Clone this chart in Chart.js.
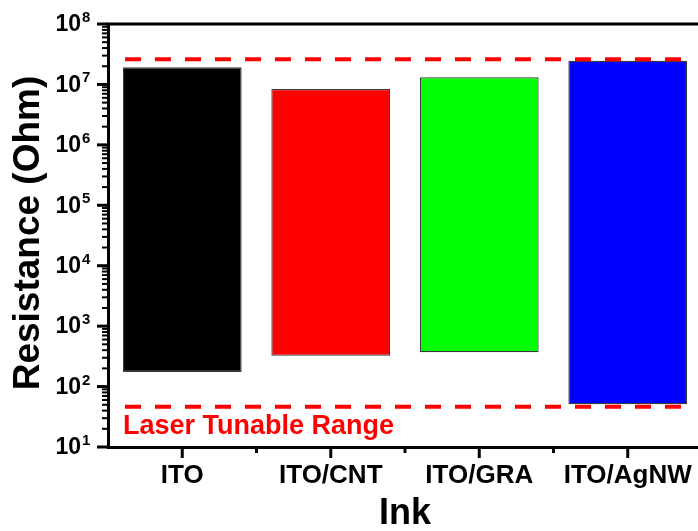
<!DOCTYPE html>
<html>
<head>
<meta charset="utf-8">
<script src="https://cdn.jsdelivr.net/npm/chart.js@4.4.1/dist/chart.umd.min.js"></script>
<style>
  html, body { margin: 0; padding: 0; background: #fff; overflow: hidden; }
  #wrap { width: 698px; height: 531px; overflow: hidden; }
  #c { display: block; }
</style>
</head>
<body>
<div id="wrap"><canvas id="c" width="702" height="531"></canvas></div>
<script>
// Ink types
const categories = ['ITO', 'ITO/CNT', 'ITO/GRA', 'ITO/AgNW'];
// Lowest and highest resistance (Ohm) for each ink
const lowValues = [174, 324, 369, 51];
const highValues = [1.92e7, 8.4e6, 1.31e7, 2.47e7];
const barColors = ['#000000', '#ff0000', '#00ff00', '#0000ff'];
// Limits of the laser tunable range (Ohm)
const rangeLow = 46.4;
const rangeHigh = 2.61e7;
const rangeLabel = 'Laser Tunable Range';
// Decade exponents shown on the y axis
const tickExponents = [1, 2, 3, 4, 5, 6, 7, 8];
const yTitle = 'Resistance (Ohm)';
const xTitle = 'Ink';

const FONT = '"Liberation Sans", Arial, Helvetica, sans-serif';

const decorations = {
  id: 'decorations',
  afterDatasetsDraw(chart) {
    const ctx = chart.ctx;
    const area = chart.chartArea;
    const x = chart.scales.x;
    const y = chart.scales.y;
    ctx.save();

    // dashed limits of the tunable range
    ctx.strokeStyle = '#ff0000';
    ctx.lineWidth = 4;
    ctx.setLineDash([16, 14]);
    ctx.lineCap = 'butt';
    const x0 = area.left + 17;
    const x1 = area.right - 19;
    [rangeHigh, rangeLow].forEach(v => {
      const py = y.getPixelForValue(v);
      ctx.beginPath();
      ctx.moveTo(x0, py);
      ctx.lineTo(x1, py);
      ctx.stroke();
    });
    ctx.setLineDash([]);

    ctx.fillStyle = '#ff0000';
    ctx.font = 'bold 27px ' + FONT;
    ctx.textAlign = 'left';
    ctx.textBaseline = 'alphabetic';
    ctx.fillText(rangeLabel, area.left + 15, 434);

    // top frame line
    ctx.strokeStyle = '#000';
    ctx.lineWidth = 3;
    ctx.beginPath();
    ctx.moveTo(area.left - 1.5, area.top);
    ctx.lineTo(area.right + 2, area.top);
    ctx.stroke();

    // y axis ticks (major + minor)
    ctx.fillStyle = '#000';
    tickExponents.forEach((e, i) => {
      const py = y.getPixelForValue(Math.pow(10, e));
      ctx.lineWidth = 3;
      ctx.beginPath();
      ctx.moveTo(area.left - 11, py);
      ctx.lineTo(area.left, py);
      ctx.stroke();
      if (i < tickExponents.length - 1) {
        ctx.lineWidth = 2;
        for (let m = 2; m <= 9; m++) {
          const my = y.getPixelForValue(m * Math.pow(10, e));
          ctx.beginPath();
          ctx.moveTo(area.left - 6, my);
          ctx.lineTo(area.left, my);
          ctx.stroke();
        }
      }
      // label 10^e
      ctx.font = 'bold 23px ' + FONT;
      ctx.textAlign = 'right';
      ctx.textBaseline = 'middle';
      ctx.fillText('10', area.left - 27, py + 1);
      ctx.font = 'bold 15px ' + FONT;
      ctx.textAlign = 'left';
      ctx.textBaseline = 'alphabetic';
      ctx.fillText(String(e), area.left - 26, py - 2);
    });

    // x axis ticks and labels
    ctx.lineWidth = 3;
    categories.forEach((c, i) => {
      const px = x.getPixelForValue(i);
      ctx.beginPath();
      ctx.moveTo(px, area.bottom);
      ctx.lineTo(px, area.bottom + 11);
      ctx.stroke();
      const bx = (px + x.getPixelForValue(i) + x.width / categories.length) / 2;
      ctx.beginPath();
      ctx.moveTo(bx, area.bottom);
      ctx.lineTo(bx, area.bottom + 6);
      ctx.stroke();
      ctx.font = 'bold 26px ' + FONT;
      ctx.textAlign = 'center';
      ctx.textBaseline = 'alphabetic';
      ctx.fillText(c, px, 483);
    });

    // axis titles
    ctx.font = 'bold 36px ' + FONT;
    ctx.textAlign = 'center';
    ctx.textBaseline = 'middle';
    ctx.fillText(xTitle, (area.left + area.right) / 2, 514);
    ctx.save();
    ctx.font = 'bold 37px ' + FONT;
    ctx.translate(29, 233);
    ctx.rotate(-Math.PI / 2);
    ctx.fillText(yTitle, 0, 0);
    ctx.restore();

    ctx.restore();
  }
};

new Chart(document.getElementById('c'), {
  type: 'bar',
  data: {
    labels: categories,
    datasets: [{
      data: categories.map((c, i) => [lowValues[i], highValues[i]]),
      backgroundColor: barColors,
      borderColor: '#3a3a3a',
      borderWidth: 1.2,
      borderSkipped: false,
      barPercentage: 0.8,
      categoryPercentage: 1.0
    }]
  },
  options: {
    responsive: false,
    animation: false,
    devicePixelRatio: 1,
    layout: { padding: { left: 0, top: 24, right: 0, bottom: 0 } },
    plugins: { legend: { display: false }, tooltip: { enabled: false } },
    scales: {
      x: {
        type: 'category',
        offset: true,
        grid: { display: false },
        ticks: { display: false },
        border: { display: true, color: '#000', width: 3 },
        afterFit(s) { s.height = 84; }
      },
      y: {
        type: 'logarithmic',
        min: 10,
        max: 1e8,
        grid: { display: false },
        ticks: { display: false },
        border: { display: true, color: '#000', width: 3 },
        afterFit(s) { s.width = 108; }
      }
    }
  },
  plugins: [decorations]
});
</script>
</body>
</html>
